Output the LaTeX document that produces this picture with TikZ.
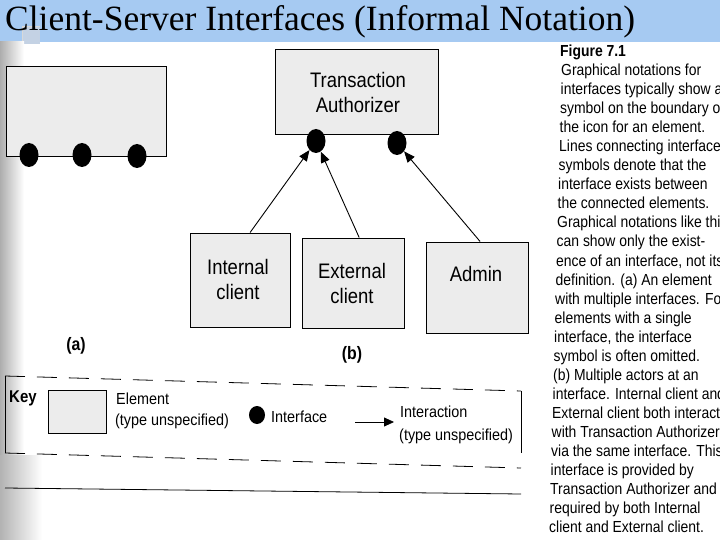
\documentclass[tikz,border=0pt]{standalone}
\usepackage{fontspec}
\setmainfont{Liberation Serif}
\newfontfamily\cond[FakeStretch=0.88]{Liberation Sans}
\newfontfamily\keyfam[FakeStretch=0.9]{Liberation Sans}
\newfontfamily\capf[FakeStretch=0.87]{Liberation Sans}
\usetikzlibrary{arrows.meta,calc,shapes.geometric}
\definecolor{titlebar}{RGB}{166,202,242}
\definecolor{stip}{RGB}{236,236,236}
\definecolor{sqr}{RGB}{196,210,228}
\begin{document}
\begin{tikzpicture}[x=1pt,y=-1pt,
  elem/.style={draw=black, line width=1pt, fill=stip, inner sep=0pt},
  iface/.style={ellipse, fill=black, minimum width=19pt, minimum height=24pt, inner sep=0pt},
  lbl/.style={font=\cond\fontsize{21}{25}\selectfont, align=center, inner sep=0pt},
  sublbl/.style={font=\cond\bfseries\fontsize{18}{20}\selectfont, inner sep=0pt},
  keyf/.style={font=\keyfam\fontsize{16}{20}\selectfont, inner sep=0pt, anchor=base west},
  capl/.style={font=\capf\fontsize{16}{19}\selectfont, inner sep=0pt, anchor=base west},
  arr/.style={line width=0.9pt, -{Triangle[length=11pt,width=9pt]}},
  keyline/.style={line width=0.8pt, dash pattern=on 20pt off 12pt}]
\clip (0,0) rectangle (720,540);
\fill[white] (0,0) rectangle (720,540);
% title bar
\fill[titlebar] (0,0) rectangle (720,42);
\fill[sqr] (22,27) rectangle (40,44);
\draw[white!70!gray, line width=1pt] (22,44) -- (22,27) -- (40,27);
\node[anchor=base west, inner sep=0pt, font=\fontsize{35.5}{40}\selectfont] (title) at (5,31) {Client-Server Interfaces (Informal Notation)};
% left stipple strip
\shade[left color=black!32, right color=white] (0,42) rectangle (24,540);
\shade[left color=black!30, right color=white] (0,455) rectangle (42,540);
% (a) element with multiple interfaces
\node[elem, minimum width=160pt, minimum height=90pt] (ea) at (86,112) {};
\node[iface] (a1) at (29,155) {};
\node[iface] (a2) at (82,155) {};
\node[iface] (a3) at (137,156) {};
\node[sublbl] (la) at (76,346) {(a)};
% (b) multiple actors
\node[elem, minimum width=163pt, minimum height=85pt] (ta) at (356.5,92.5) {};
\node[lbl] (tat) at (358,92) {Transaction\\Authorizer};
\node[iface] (t1) at (316,141) {};
\node[iface] (t2) at (397,143) {};
\node[elem, minimum width=100pt, minimum height=94pt] (ic) at (240,280) {};
\node[lbl] (ict) at (238,279) {Internal\\client};
\node[elem, minimum width=102pt, minimum height=90pt] (ec) at (353,283) {};
\node[lbl] (ect) at (352,283) {External\\client};
\node[elem, minimum width=102pt, minimum height=91pt] (ad) at (477,287.5) {};
\node[lbl] (adt) at (476,274) {Admin};
\draw[arr] ($(ic.north west)!0.6!(ic.north east)$) -- (t1);
\draw[arr] ($(ec.north west)!0.56!(ec.north east)$) -- (t1);
\draw[arr] ($(ad.north west)!0.53!(ad.north east)$) -- (t2);
\node[sublbl] (lb) at (352,355) {(b)};
% key
\coordinate (k1) at (5,376);
\coordinate (k2) at (521,391);
\coordinate (k3) at (521,468);
\coordinate (k4) at (5,453);
\draw[keyline] (k1) -- (k2);
\draw[line width=0.8pt] (k2) -- ($(k2)!0.8!(k3)$);
\draw[keyline] (k4) -- (k3);
\draw[line width=0.8pt] (k1) -- (k4);
\coordinate (s1) at (5,488);
\coordinate (s2) at (521,494);
\draw[line width=0.8pt] (s1) -- (s2);
\node[anchor=base west, inner sep=0pt, font=\cond\bfseries\fontsize{17}{18}\selectfont] (key) at (9,402) {Key};
\node[elem, line width=0.8pt, minimum width=58pt, minimum height=43pt] (ke) at (77,411.5) {};
\node[keyf] (ket1) at (116,404) {Element};
\node[keyf] (ket2) at (115,425) {(type unspecified)};
\node[ellipse, fill=black, minimum width=16pt, minimum height=18pt, inner sep=0pt] (ki) at (257,415) {};
\node[keyf] (kit) at (271,422) {Interface};
\coordinate (ka1) at (355,422);
\coordinate (ka2) at (394,422);
\draw[line width=0.8pt, -{Triangle[length=10pt,width=9pt]}] (ka1) -- (ka2);
\node[keyf] (kat1) at (400,417) {Interaction};
\node[keyf] (kat2) at (399,440) {(type unspecified)};
% caption
\node[anchor=base west, inner sep=0pt, font=\capf\bfseries\fontsize{16}{19}\selectfont] (fig) at (560,57) {Figure 7.1};
\node[capl] at (561.0,76) {Graphical notations for};
\node[capl] at (560.5,95) {interfaces typically show a};
\node[capl] at (560.0,114) {symbol on the boundary o};
\node[capl] at (559.5,133) {the icon for an element.};
\node[capl] at (559.0,152) {Lines connecting interface};
\node[capl] at (558.5,171) {symbols denote that the};
\node[capl] at (558.0,190) {interface exists between};
\node[capl] at (557.5,209) {the connected elements.};
\node[capl] at (557.0,228) {Graphical notations like this};
\node[capl] at (556.5,247) {can show only the exist-};
\node[capl] at (556.0,266) {ence of an interface, not its};
\node[capl] at (555.5,285) {definition. (a) An element};
\node[capl] at (555.0,304) {with multiple interfaces. For};
\node[capl] at (554.5,323) {elements with a single};
\node[capl] at (554.0,342) {interface, the interface};
\node[capl] at (553.5,361) {symbol is often omitted.};
\node[capl] at (553.0,380) {(b) Multiple actors at an};
\node[capl] at (552.5,399) {interface. Internal client and};
\node[capl] at (552.0,418) {External client both interact};
\node[capl] at (551.5,437) {with Transaction Authorizer};
\node[capl] at (551.0,456) {via the same interface. This};
\node[capl] at (550.5,475) {interface is provided by};
\node[capl] at (550.0,494) {Transaction Authorizer and};
\node[capl] at (549.5,513) {required by both Internal};
\node[capl] at (549.0,532) {client and External client.};
\end{tikzpicture}
\end{document}
